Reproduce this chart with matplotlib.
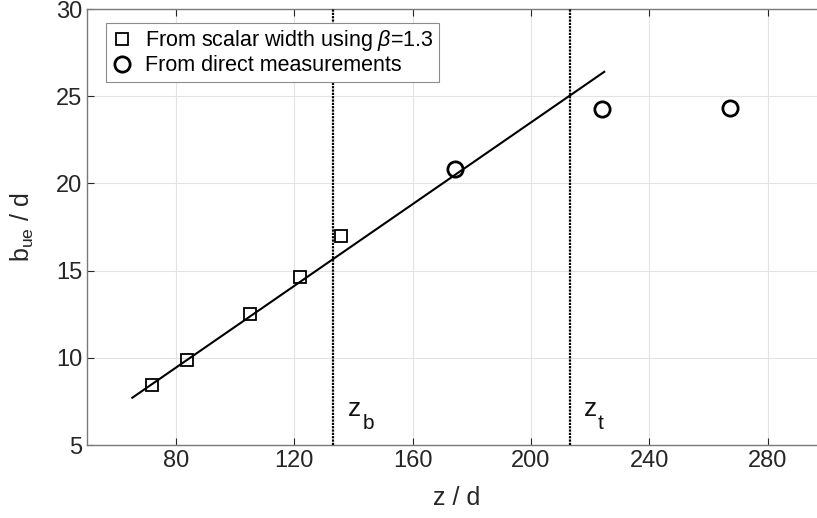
import matplotlib.pyplot as plt
import numpy as np

plt.rcParams['font.family'] = ['Liberation Sans', 'DejaVu Sans']
plt.rcParams['mathtext.fontset'] = 'custom'
plt.rcParams['mathtext.rm'] = 'Liberation Sans'
plt.rcParams['mathtext.it'] = 'Liberation Sans:italic'

# data
scalar_z = [71.8, 83.8, 105.0, 121.9, 135.9]
scalar_b = [8.44, 9.87, 12.51, 14.65, 16.98]
direct_z = [174.5, 223.9, 267.4]
direct_b = [20.81, 24.27, 24.34]
fit_z = [65.3, 224.8]
fit_b = [7.71, 26.4]
z_b = 133.0
z_t = 213.2

fig = plt.figure(figsize=(8.17, 5.18), dpi=100)
ax = fig.add_axes([0.1065, 0.1409, 0.9055, 0.8417])

ax.plot(fit_z, fit_b, color='black', lw=1.5, zorder=3)
ax.plot(scalar_z, scalar_b, 's', ms=8, mfc='none', mec='black', mew=1.3,
        label=r'From scalar width using $\it{\beta}$=1.3', zorder=4)
ax.plot(direct_z, direct_b, 'o', ms=11, mfc='none', mec='black', mew=2.0,
        label='From direct measurements', zorder=4)
ax.axvline(z_b, color='black', ls=(0, (1, 0.5)), lw=1.6, zorder=3)
ax.axvline(z_t, color='black', ls=(0, (1, 0.5)), lw=1.6, zorder=3)

# z_b / z_t labels: letter plus lowered subscript
for zx, sub in [(138.3, 'b'), (218.0, 't')]:
    ax.text(zx, 7.05, 'z', fontsize=19, va='center', color='#111111')
    ax.text(zx + 4.7, 6.25, sub, fontsize=15, va='center', color='#111111')

ax.set_xlim(50, 300)
ax.set_ylim(5, 30)
ax.set_xticks([80, 120, 160, 200, 240, 280])
ax.set_yticks([5, 10, 15, 20, 25, 30])
ax.grid(True, color='#e3e3e3', lw=0.8)
ax.set_axisbelow(True)
ax.tick_params(direction='in', length=5, labelsize=17, colors='#262626',
               top=True, right=False)
for s in ax.spines.values():
    s.set_color('#7a7a7a')
    s.set_linewidth(1.0)

ax.set_xlabel('z / d', fontsize=18, color='#262626', labelpad=10)
ax.set_ylabel(r'b$_{\mathregular{ue}}$ / d', fontsize=18, color='#262626', labelpad=14)

leg = ax.legend(loc='upper left', bbox_to_anchor=(0.025, 0.968), fontsize=15.5,
                fancybox=False, framealpha=1, edgecolor='#8c8c8c',
                handlelength=1.0, handletextpad=0.6, borderpad=0.25,
                labelspacing=0.1, borderaxespad=0)
leg.get_frame().set_linewidth(0.8)

fig.savefig('out.png', dpi=100)
